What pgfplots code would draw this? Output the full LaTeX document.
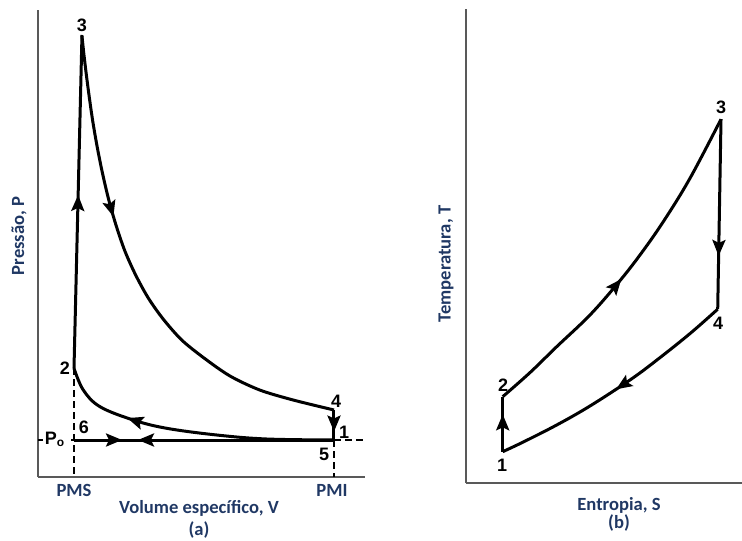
\documentclass[border=0pt]{standalone}
\usepackage{pgfplots}
\pgfplotsset{compat=1.18}
\usepackage{fontspec}
\setmainfont{Carlito}
\newfontfamily\arialf{Liberation Sans}
\usetikzlibrary{decorations.markings,arrows.meta}
\definecolor{navy}{RGB}{32,56,100}
\tikzset{
  arr/.style={postaction={decorate},decoration={markings,mark=at position #1 with {\arrow{Stealth[length=8pt,width=6.5pt,inset=1.5pt]}}}},
  curve/.style={black,line width=1.5pt},
  dsh/.style={black,line width=0.8pt,dash pattern=on 3.5pt off 2pt},
  num/.style={font=\arialf\bfseries\fontsize{9}{10.8}\selectfont,inner sep=0pt},
  lab/.style={font=\bfseries\fontsize{9.3}{11.2}\selectfont,text=navy,inner sep=0pt}
}
\pgfplotsset{
  panel/.style={scale only axis, axis lines=left,
    axis line style={-, draw=black!65, line width=0.8pt},
    xtick=\empty, ytick=\empty, clip=false}
}
\begin{document}
\begin{tikzpicture}
% ---------------- (a) P-V ----------------
\begin{axis}[panel, at={(19pt,31.5pt)}, anchor=south west,
  width=163.5pt, height=233.5pt,
  xmin=0.031, xmax=8.835, ymin=0, ymax=46.7]
% dashed guide lines
\addplot[dsh] coordinates {(1,10.87) (1,0)};
\addplot[dsh] coordinates {(8,3.7) (8,0)};
\addplot[dsh] coordinates {(8,3.7) (8.835,3.7)};
\addplot[dsh] coordinates {(0.031,3.7) (1,3.7)};
% 2 -> 3 (combustion)
\addplot[curve, arr=0.52] coordinates {(1.0,10.87) (1.215,44.2)};
% 3 -> 4 (expansion)
\addplot[curve, smooth, tension=0.5, arr=0.37] coordinates {
 (1.215,44.1) (1.26,42.5) (1.32,40.6) (1.40,38.3) (1.50,35.7)
 (1.62,33.1) (1.76,30.5) (1.93,27.8) (2.13,25.2) (2.37,22.6)
 (2.66,20.2) (3.00,17.9) (3.40,15.8) (3.90,13.7) (4.50,11.9)
 (5.20,10.1) (6.00,8.7) (6.90,7.7) (8.00,6.7)};
% 4 -> 1
\addplot[curve, arr=0.72] coordinates {(8.0,6.7) (8.0,3.7)};
% 1 -> 2 (compression)
\addplot[curve, smooth, tension=0.6, arr=0.73] coordinates {
 (8.0,3.7) (6.189,3.8) (4.842,4.2) (3.496,4.87) (2.597,5.7)
 (1.70,7.03) (1.25,8.7) (1.0,10.87)};
% 6 <-> 5 (intake / exhaust)
\addplot[curve, postaction={decorate}, decoration={markings,
  mark=at position 0.185 with {\arrow{Stealth[length=8pt,width=6.5pt,inset=1.5pt]}},
  mark=at position 0.246 with {\arrowreversed{Stealth[length=8pt,width=6.5pt,inset=1.5pt]}}}]
  coordinates {(1,3.7) (8,3.7)};
\end{axis}
% ---------------- (b) T-S ----------------
\begin{axis}[panel, at={(233pt,28.5pt)}, anchor=south west,
  width=138pt, height=237pt,
  xmin=0, xmax=27.6, ymin=0, ymax=47.4]
\addplot[curve, arr=0.68] coordinates {(3.67,3.13) (3.67,8.63)};
\addplot[curve, smooth, tension=0.6, arr=0.47] coordinates {
 (3.67,8.63) (6.4,11.04) (9.07,13.63) (12.4,16.8) (15.23,20.03) (17.4,22.8)
 (19.73,26.13) (22.4,30.47) (25.5,36.37)};
\addplot[curve, arr=0.72] coordinates {(25.5,36.37) (25.17,17.38)};
\addplot[curve, smooth, tension=0.6, arr=0.5] coordinates {
 (25.17,17.38) (22.4,14.94) (19.07,12.28) (16.4,10.3) (12.4,7.7)
 (9.07,5.8) (5.73,4.10) (3.67,3.13)};
\end{axis}
% ---------------- text (pixel frame) ----------------
\begin{scope}[x=0.5pt,y=-0.5pt,yshift=270pt]
\node[num] at (82,25) {3};
\node[num] at (65,368) {2};
\node[num] at (84,427) {6};
\node[num,fill=white,inner sep=1pt] at (55,439) {P\textsubscript{o}};
\node[num] at (336,401) {4};
\node[num] at (344,432) {1};
\node[num] at (324,454) {5};
\node[lab] at (74,490) {PMS};
\node[lab] at (332,490) {PMI};
\node[lab] at (199,508) {Volume específico, V};
\node[lab] at (199,530) {(a)};
\node[lab,rotate=90] at (19,236) {Pressão, P};
\node[num] at (721,107) {3};
\node[num] at (503,385) {2};
\node[num] at (718,323) {4};
\node[num] at (502,465) {1};
\node[lab,rotate=90] at (446,264) {Temperatura, T};
\node[lab] at (619,505) {Entropia, S};
\node[lab] at (619,523) {(b)};
\end{scope}
\pgfresetboundingbox
\path (0,0) rectangle (371pt,270pt);
\end{tikzpicture}
\end{document}
